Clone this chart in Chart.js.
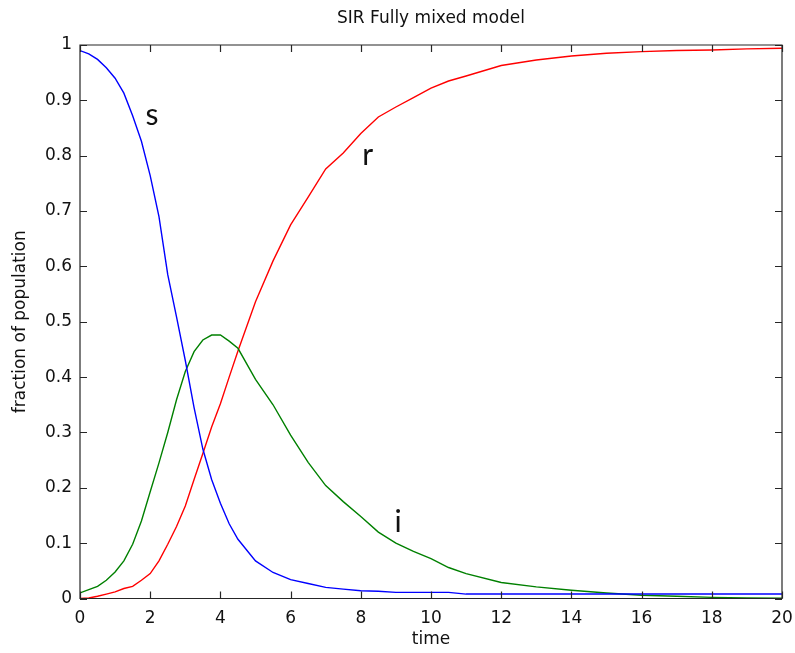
<!DOCTYPE html>
<html>
<head>
<meta charset="utf-8">
<script src="https://cdn.jsdelivr.net/npm/chart.js@4.4.1/dist/chart.umd.min.js"></script>
<style>
  body { margin: 0; background: #fff; }
  #wrap { width: 795px; height: 653px; }
</style>
</head>
<body>
<div id="wrap"><canvas id="sirChart" width="795" height="653"></canvas></div>
<script>
//data
const time = [0, 0.25, 0.5, 0.75, 1, 1.25, 1.5, 1.75, 2, 2.25, 2.5, 2.75, 3, 3.25, 3.5, 3.75, 4, 4.25, 4.5, 5, 5.5, 6, 6.5, 7, 7.5, 8, 8.5, 9, 9.5, 10, 10.5, 11, 12, 13, 14, 15, 16, 17, 18, 19, 20];
const susceptible = [0.99, 0.984, 0.974, 0.959, 0.94, 0.913, 0.872, 0.826, 0.764, 0.69, 0.585, 0.509, 0.43, 0.345, 0.27, 0.215, 0.172, 0.135, 0.107, 0.068, 0.047, 0.034, 0.027, 0.02, 0.017, 0.014, 0.013, 0.011, 0.011, 0.011, 0.011, 0.008, 0.008, 0.008, 0.008, 0.008, 0.008, 0.008, 0.008, 0.008, 0.008];
const infected = [0.01, 0.016, 0.022, 0.033, 0.048, 0.068, 0.098, 0.14, 0.193, 0.245, 0.3, 0.359, 0.41, 0.446, 0.467, 0.476, 0.476, 0.465, 0.452, 0.396, 0.35, 0.295, 0.246, 0.204, 0.175, 0.148, 0.12, 0.1, 0.085, 0.072, 0.056, 0.045, 0.029, 0.021, 0.015, 0.01, 0.006, 0.004, 0.002, 0.001, 0.0004];
const recovered = [0, 0.001, 0.004, 0.008, 0.012, 0.018, 0.022, 0.033, 0.045, 0.068, 0.098, 0.13, 0.167, 0.215, 0.262, 0.31, 0.352, 0.4, 0.447, 0.536, 0.61, 0.675, 0.725, 0.776, 0.805, 0.84, 0.87, 0.888, 0.905, 0.922, 0.935, 0.944, 0.963, 0.973, 0.98, 0.985, 0.988, 0.99, 0.991, 0.993, 0.994];

//curve labels placed in data space
const curveLabels = ["s", "r", "i"];
const curveLabelX = [2.05, 8.2, 9.06];
const curveLabelY = [0.873, 0.8, 0.137];

const xTicks = [0, 2, 4, 6, 8, 10, 12, 14, 16, 18, 20];
const yTicks = [0, 0.1, 0.2, 0.3, 0.4, 0.5, 0.6, 0.7, 0.8, 0.9, 1];

function pts(values) {
  return time.map((t, k) => ({ x: t, y: values[k] }));
}

//matlab style box with inward ticks + the s/r/i text
const boxPlugin = {
  id: "boxPlugin",
  afterDatasetsDraw(chart) {
    const ctx = chart.ctx;
    const a = chart.chartArea;
    const xs = chart.scales.x;
    const ys = chart.scales.y;
    const tl = 7;
    ctx.save();
    ctx.strokeStyle = "#262626";
    ctx.lineWidth = 1.2;
    ctx.beginPath();
    ctx.rect(a.left, a.top, a.right - a.left, a.bottom - a.top);
    xTicks.forEach((v) => {
      const px = Math.round(xs.getPixelForValue(v)) + 0.5;
      ctx.moveTo(px, a.bottom);
      ctx.lineTo(px, a.bottom - tl);
      ctx.moveTo(px, a.top);
      ctx.lineTo(px, a.top + tl);
    });
    yTicks.forEach((v) => {
      const py = Math.round(ys.getPixelForValue(v)) + 0.5;
      ctx.moveTo(a.left, py);
      ctx.lineTo(a.left + tl, py);
      ctx.moveTo(a.right, py);
      ctx.lineTo(a.right - tl, py);
    });
    ctx.stroke();

    ctx.fillStyle = "#111";
    ctx.font = "30px Lato";
    ctx.textAlign = "center";
    ctx.textBaseline = "middle";
    for (let k = 0; k < curveLabels.length; k++) {
      ctx.fillText(curveLabels[k], xs.getPixelForValue(curveLabelX[k]), ys.getPixelForValue(curveLabelY[k]));
    }
    ctx.restore();
  },
};

const tickFont = { family: "DejaVu Sans", size: 17 };

new Chart(document.getElementById("sirChart"), {
  type: "line",
  data: {
    datasets: [
      { label: "s", data: pts(susceptible), borderColor: "#0000ff", borderWidth: 1.4 },
      { label: "i", data: pts(infected), borderColor: "#008000", borderWidth: 1.4 },
      { label: "r", data: pts(recovered), borderColor: "#ff0000", borderWidth: 1.4 },
    ],
  },
  options: {
    responsive: false,
    animation: false,
    parsing: false,
    layout: { padding: { left: 0, right: 13, top: 0, bottom: 0 } },
    elements: { point: { radius: 0 }, line: { tension: 0 } },
    plugins: {
      legend: { display: false },
      tooltip: { enabled: false },
      title: {
        display: true,
        fullSize: false,
        text: "SIR Fully mixed model",
        color: "#111",
        font: { family: "DejaVu Sans", size: 17, weight: "normal" },
        padding: { top: 8, bottom: 16.6 },
      },
    },
    scales: {
      x: {
        type: "linear",
        min: 0,
        max: 20,
        grid: { display: false, drawTicks: false },
        border: { display: false },
        afterBuildTicks: (axis) => { axis.ticks = xTicks.map((v) => ({ value: v })); },
        afterFit: (axis) => {
          axis.height = 54.5;
          axis.paddingLeft = 0;
          axis.paddingRight = 0;
        },
        ticks: { color: "#111", font: tickFont, padding: 10, maxRotation: 0 },
        title: { display: true, text: "time", color: "#111", font: tickFont, padding: { top: 3, bottom: 3 } },
      },
      y: {
        type: "linear",
        min: 0,
        max: 1,
        grid: { display: false, drawTicks: false },
        border: { display: false },
        afterBuildTicks: (axis) => { axis.ticks = yTicks.map((v) => ({ value: v })); },
        afterFit: (axis) => {
          axis.width = 80;
          axis.paddingTop = 0;
          axis.paddingBottom = 0;
        },
        ticks: { color: "#111", font: tickFont, padding: 8, callback: (v) => String(+v.toFixed(1)) },
        title: { display: true, text: "fraction of population", color: "#111", font: tickFont, padding: { top: 10, bottom: 10 } },
      },
    },
  },
  plugins: [boxPlugin],
});
</script>
</body>
</html>
